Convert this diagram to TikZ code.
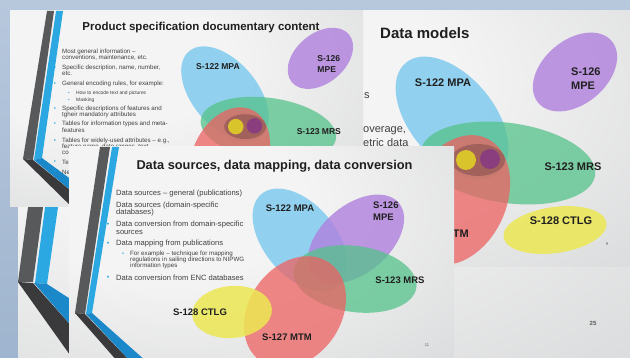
\documentclass[tikz,border=0pt]{standalone}
\usepackage{fontspec}
\setmainfont{Liberation Sans}
\definecolor{sky}{HTML}{9FB4CE}
\definecolor{skyL}{HTML}{B7C8DD}
\definecolor{slA}{HTML}{F4F4F4}
\definecolor{slB}{HTML}{C3C5C7}
\definecolor{rdark}{HTML}{58595B}
\definecolor{rdarker}{HTML}{3A3A3C}
\definecolor{rblue}{HTML}{2BA8E2}
\definecolor{rbluedk}{HTML}{1A88C9}
\definecolor{vblue}{HTML}{7CC9EE}
\definecolor{vpurple}{HTML}{B080DE}
\definecolor{vgreen}{HTML}{55C28A}
\definecolor{vred}{HTML}{EE6262}
\definecolor{vyellow}{HTML}{ECE752}
\definecolor{cyel}{HTML}{D9C42B}
\definecolor{cpur}{HTML}{8B3E7E}
\definecolor{txt}{HTML}{404040}
\pgfdeclareradialshading{slideshade}{\pgfpoint{-15bp}{15bp}}{color(0bp)=(slA); color(18bp)=(slA); color(75bp)=(slB); color(100bp)=(slB)}
\tikzset{
  vlab/.style={font=\bfseries\fontsize{11}{14}\selectfont, text=black!88, inner sep=0pt, align=center},
  vlabc/.style={font=\bfseries\fontsize{9.5}{12}\selectfont, text=black!88, inner sep=0pt, align=center},
  ttl/.style={font=\bfseries, text=black!88, inner sep=0pt},
  btA/.style={anchor=west, inner sep=0pt, text=txt, font=\fontsize{6.2}{6.2}\selectfont},
  sbtA/.style={anchor=west, inner sep=0pt, text=txt, font=\fontsize{4.9}{5}\selectfont},
  btC/.style={anchor=west, inner sep=0pt, text=txt, font=\fontsize{7.6}{7.6}\selectfont},
  sbtC/.style={anchor=west, inner sep=0pt, text=txt, font=\fontsize{6.2}{6.2}\selectfont},
  bulA/.style={inner sep=0pt, text=rblue, font=\fontsize{6}{6}\selectfont},
  bulC/.style={inner sep=0pt, text=rblue, font=\fontsize{7}{7}\selectfont},
  slnum/.style={inner sep=0pt, text=black!65},
  vb/.style={fill=vblue, opacity=.82},
  vp/.style={fill=vpurple, opacity=.8},
  vg/.style={fill=vgreen, opacity=.75},
  vr/.style={fill=vred, opacity=.75},
  vy/.style={fill=vyellow, opacity=.85},
}
% Venn of the "Data models" slide, in coordinates relative to the slide corner
\newcommand\vennBshapes{%
  \fill[vb, rotate around={-50:(277,107)}] (277,107) ellipse (72 and 42);
  \fill[vp, rotate around={40:(400,61)}] (400,61) ellipse (48 and 32);
  \fill[vg, rotate around={-8:(333,152)}] (333,152) ellipse (88 and 40);
  \fill[vr, rotate around={65:(283,189)}] (283,189) ellipse (68 and 48);
  \fill[black, opacity=.2] (303,149) ellipse (27 and 16);
  \fill[cyel] (291,149) circle (10);
  \fill[cpur] (315,148) circle (10);
  \fill[vy, rotate around={8:(380,219)}] (380,219) ellipse (52 and 23);
}
\newcommand\vennBtop[1]{%
  \node[vlab] (#1mpa) at (268,72) {S-122 MPA};
  \node[vlab, anchor=west, align=left] (#1mpe) at (396,68) {S-126\\MPE};
  \node[vlab] (#1mrs) at (398,156) {S-123 MRS};
}
\newcommand\vennBlow[1]{%
  \node[vlab] (#1mtm) at (265,223) {S-127 MTM};
  \node[vlab] (#1ctlg) at (386,210) {S-128 CTLG};
}
\begin{document}
\begin{tikzpicture}[x=1pt,y=-1pt]
\useasboundingbox (0,0) rectangle (630,358);
\shade[top color=skyL, bottom color=sky] (0,0) rectangle (630,358);

% ---------- back slide (25)
\shade[shading=slideshade] (18,11) rectangle (630,358);
\begin{scope}
  \clip (18,11) rectangle (630,358);
  \fill[rdark] (29,200) -- (44,200) -- (33,282) -- (18,282) -- cycle;
  \fill[rblue] (46,200) -- (59,200) -- (47,284) -- (35,283) -- cycle;
  \fill[rdarker] (18,282) -- (33,283) -- (75,330) -- (75,362) -- cycle;
  \fill[rbluedk] (34,283) -- (47,284) -- (75,302) -- (75,330) -- cycle;
\end{scope}
\node[slnum, font=\bfseries\fontsize{6}{7}\selectfont] (n25) at (593,323) {25};

% ---------- slide "Data models" (9)
\shade[shading=slideshade] (175,11) rectangle (630,267);
\begin{scope}
  \clip (175,11) rectangle (630,267);
  \begin{scope}[shift={(175,11)}]
    \vennBshapes
    \vennBtop{b}
    \vennBlow{b}
  \end{scope}
\end{scope}
\node[ttl, anchor=west, font=\bfseries\fontsize{15}{15}\selectfont] (btitle) at (380,33) {Data models};
\node[btA, font=\fontsize{11}{11}\selectfont] (bs) at (364,96) {s};
\node[btA, font=\fontsize{11}{11}\selectfont] (bcov) at (363,131) {overage,};
\node[btA, font=\fontsize{11}{11}\selectfont] (bgeo) at (363,143) {etric data};
\node[slnum, font=\fontsize{4}{4}\selectfont] (n9) at (607,244) {9};

% ---------- slide "Product specification documentary content"
\shade[shading=slideshade] (10,11) rectangle (363,207);
\begin{scope}
  \clip (10,11) rectangle (363,207);
  \fill[rdark] (47,11) -- (54,11) -- (33,160) -- (23,159) -- cycle;
  \fill[rblue] (56,11) -- (63,11) -- (42,158) -- (34,160) -- cycle;
  \fill[rdarker] (23,159) -- (33,160) -- (80,198) -- (80,215) -- cycle;
  \fill[rbluedk] (34,160) -- (42,158) -- (80,186) -- (80,198) -- cycle;
  \begin{scope}[shift={(10,11)}, scale=0.776, transform shape]
    \vennBshapes
    \vennBtop{a}
  \end{scope}
\end{scope}
\node[ttl, font=\bfseries\fontsize{11.5}{11.5}\selectfont] (atitle) at (201,28) {Product specification documentary content};
\foreach \y [count=\i] in {52,68,84,109,124,141,162,172}
  \node[bulA] (ab\i) at (55,\y) {\textbullet};
\foreach \y [count=\i] in {93,100}
  \node[bulA, font=\fontsize{4.5}{4.5}\selectfont] (asb\i) at (69,\y) {\textbullet};
\node[btA] (a1) at (62,52) {Most general information –};
\node[btA] (a2) at (62,58) {conventions, maintenance, etc.};
\node[btA] (a3) at (62,68) {Specific description, name, number,};
\node[btA] (a4) at (62,74) {etc.};
\node[btA] (a5) at (62,84) {General encoding rules, for example:};
\node[sbtA] (a6) at (76,93) {How to encode text and pictures};
\node[sbtA] (a7) at (76,100) {Masking};
\node[btA] (a8) at (62,109) {Specific descriptions of features and};
\node[btA] (a9) at (62,115) {tgheir mandatory attributes};
\node[btA] (a10) at (62,124) {Tables for information types and meta-};
\node[btA] (a11) at (62,130) {features};
\node[btA] (a12) at (62,141) {Tables for widely-used attributes – e.g.,};
\node[btA] (a13) at (62,147) {feature name, date ranges, text};
\node[btA] (a14) at (62,153) {co};
\node[btA] (a15) at (62,162) {Te};
\node[btA] (a16) at (62,172) {Ne};

% ---------- slide "Data sources, data mapping, data conversion" (11)
\shade[shading=slideshade] (69,147) rectangle (454,362);
\begin{scope}
  \clip (69,147) rectangle (454,358);
  \fill[rdark] (100,147) -- (110,147) -- (85,314) -- (75,313) -- cycle;
  \fill[rblue] (112,147) -- (119,147) -- (92,313) -- (86,314) -- cycle;
  \fill[rdarker] (75,313) -- (85,314) -- (131,362) -- (118,362) -- cycle;
  \fill[rbluedk] (86,314) -- (92,313) -- (147,362) -- (131,362) -- cycle;
  \fill[vb, rotate around={-50:(300,240)}] (300,240) ellipse (60 and 36);
  \fill[vp, rotate around={40:(356,239)}] (356,239) ellipse (56 and 34);
  \fill[vg, rotate around={-8:(355,279)}] (355,279) ellipse (62 and 33);
  \fill[vr, rotate around={55:(295,312)}] (295,312) ellipse (60 and 46);
  \fill[vy, rotate around={5:(232,312)}] (232,312) ellipse (40 and 26);
\end{scope}
\node[vlabc] (cmpa) at (290,208) {S-122 MPA};
\node[vlabc, anchor=west, align=left] (cmpe) at (373,211) {S-126\\MPE};
\node[vlabc] (cmrs) at (400,280) {S-123 MRS};
\node[vlabc] (cmtm) at (287,337) {S-127 MTM};
\node[vlabc] (cctlg) at (200,312) {S-128 CTLG};
\node[ttl, font=\bfseries\fontsize{12.8}{12.8}\selectfont] (ctitle) at (274.5,166) {Data sources, data mapping, data conversion};
\foreach \y [count=\i] in {194,206,225,244,278}
  \node[bulC] (cb\i) at (108,\y) {\textbullet};
\node[bulC, font=\fontsize{5.5}{5.5}\selectfont] (csb1) at (123,254) {\textbullet};
\node[btC] (c1) at (116,194) {Data sources – general (publications)};
\node[btC] (c2) at (116,206) {Data sources (domain-specific};
\node[btC] (c3) at (116,213) {databases)};
\node[btC] (c4) at (116,225) {Data conversion from domain-specific};
\node[btC] (c5) at (116,232) {sources};
\node[btC] (c6) at (116,244) {Data mapping from publications};
\node[sbtC] (c7) at (130,254) {For example – technique for mapping};
\node[sbtC] (c8) at (130,260) {regulations in sailing directions to NIPWG};
\node[sbtC] (c9) at (130,266) {information types};
\node[btC] (c10) at (116,278) {Data conversion from ENC databases};
\node[slnum, font=\fontsize{4}{4}\selectfont] (n11) at (427,345) {11};
\end{tikzpicture}
\end{document}
